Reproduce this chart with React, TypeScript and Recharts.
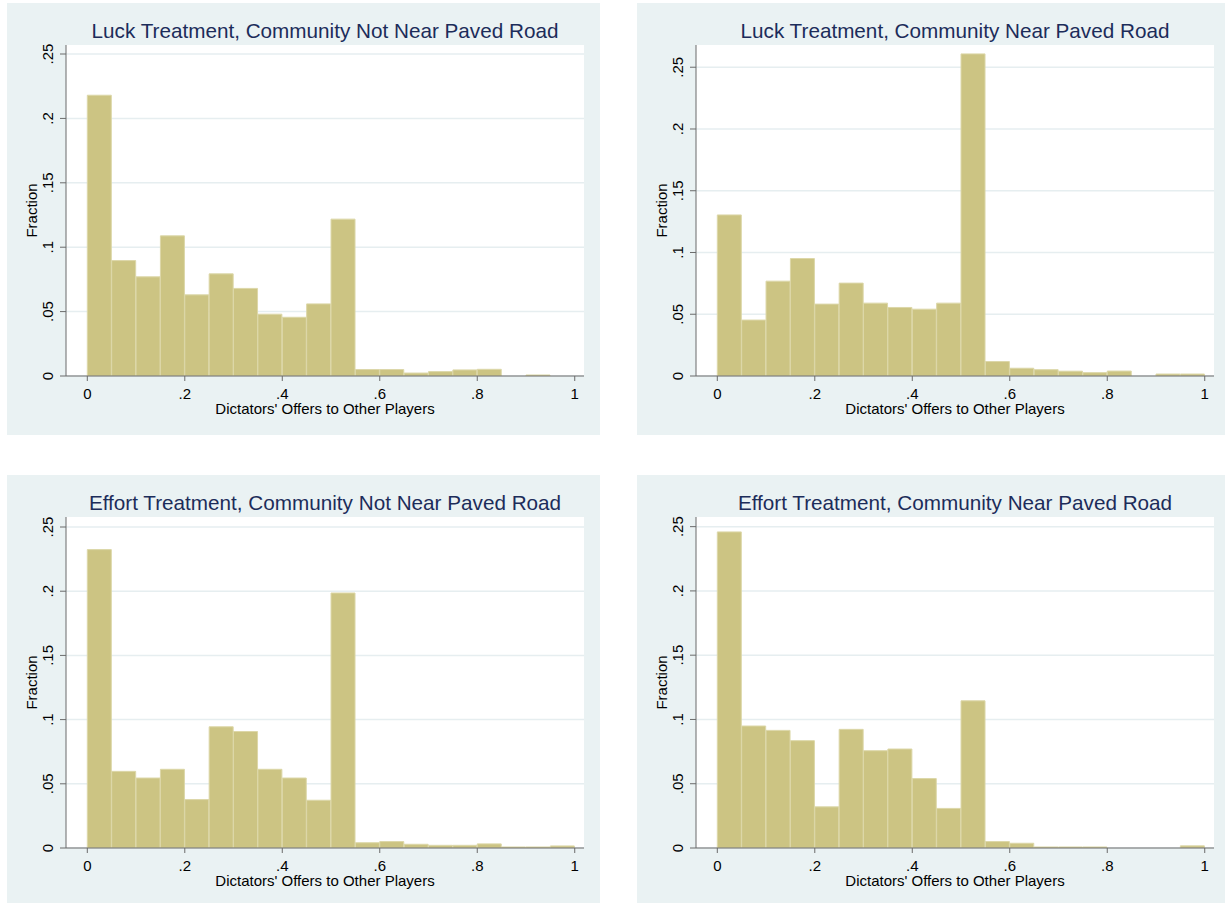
import React from 'react';
import { BarChart, Bar, XAxis, YAxis, CartesianGrid } from 'recharts';

// Histogram bins (midpoints of 0.05-wide bins from 0 to 1)
const binMids = [
  0.025, 0.075, 0.125, 0.175, 0.225, 0.275, 0.325, 0.375, 0.425, 0.475,
  0.525, 0.575, 0.625, 0.675, 0.725, 0.775, 0.825, 0.875, 0.925, 0.975,
];

// Fractions per bin
const luckNotNear = [
  0.218, 0.0896, 0.077, 0.1088, 0.063, 0.0793, 0.068, 0.048, 0.0456, 0.056,
  0.1218, 0.005, 0.005, 0.0023, 0.0034, 0.0047, 0.0052, 0, 0.0008, 0,
];
const luckNear = [
  0.1304, 0.0453, 0.0768, 0.0951, 0.0582, 0.0752, 0.059, 0.0555, 0.0541, 0.059,
  0.2608, 0.0117, 0.0063, 0.0051, 0.0039, 0.0027, 0.004, 0, 0.0016, 0.0016,
];
const effortNotNear = [
  0.2324, 0.0597, 0.0545, 0.0613, 0.0377, 0.0944, 0.0907, 0.0613, 0.0545, 0.0372,
  0.1986, 0.0041, 0.005, 0.0029, 0.0021, 0.0021, 0.0032, 0.0008, 0.0008, 0.0016,
];
const effortNear = [
  0.2459, 0.0949, 0.0915, 0.0835, 0.032, 0.0923, 0.0757, 0.077, 0.054, 0.0308,
  0.1145, 0.005, 0.0037, 0.0008, 0.0008, 0.0008, 0, 0, 0, 0.0017,
];

const titles = [
  'Luck Treatment, Community Not Near Paved Road',
  'Luck Treatment, Community Near Paved Road',
  'Effort Treatment, Community Not Near Paved Road',
  'Effort Treatment, Community Near Paved Road',
];
const xTicks = [0, 0.2, 0.4, 0.6, 0.8, 1];
const yTicks = [0, 0.05, 0.1, 0.15, 0.2, 0.25];
const xTitle = "Dictators' Offers to Other Players";
const yTitle = 'Fraction';

const series = [luckNotNear, luckNear, effortNotNear, effortNear];
const yTops = [0.257, 0.268, 0.2578, 0.2575];
const panelPos = [
  { left: 7, top: 3 },
  { left: 637, top: 3 },
  { left: 7, top: 475 },
  { left: 637, top: 475 },
];

const BG = '#eaf2f3';
const BAR = '#ccc483';
const BAR_EDGE = '#dcd7a8';
const AXIS = '#6b6b6b';
const FONT = '"Liberation Sans", Arial, Helvetica, sans-serif';
const AX_FS = 15;

const fmt = (v: number) => (v === 0 ? '0' : v === 1 ? '1' : String(v).replace(/^0/, ''));

const YTick = (props: any) => {
  const { x, y, payload } = props;
  return (
    <g transform={`translate(${x - 5},${y}) rotate(-90)`}>
      <text x={0} y={0} textAnchor="middle" fontSize={AX_FS} fill="#000" fontFamily={FONT}>
        {fmt(payload.value)}
      </text>
    </g>
  );
};

const W = 593;
const H = 432;

function Panel({ idx }: { idx: number }) {
  const data = binMids.map((m, i) => ({ x: m, v: series[idx][i] }));
  const pos = panelPos[idx];
  return (
    <div
      style={{
        position: 'absolute',
        left: pos.left,
        top: pos.top,
        width: W,
        height: H,
        background: BG,
      }}
    >
      <div
        style={{
          position: 'absolute',
          left: 59,
          width: 518,
          top: 17,
          textAlign: 'center',
          fontSize: 20.7,
          lineHeight: '21px',
          color: '#1c2c5a',
          fontFamily: FONT,
          whiteSpace: 'nowrap',
        }}
      >
        {titles[idx]}
      </div>
      <BarChart
        width={W}
        height={H}
        data={data}
        margin={{ top: 42, right: 16, bottom: 0, left: 0 }}
        barCategoryGap={0}
        barGap={0}
        style={{ fontFamily: FONT }}
      >
        <CartesianGrid
          horizontal
          vertical={false}
          fill="#ffffff"
          stroke="#e6eef0"
          strokeWidth={1.5}
          horizontalValues={yTicks}
        />
        <XAxis
          type="number"
          dataKey="x"
          domain={[-0.0437, 1.019]}
          allowDataOverflow
          ticks={xTicks}
          tickFormatter={fmt}
          height={59}
          tickSize={5}
          tickMargin={7}
          tick={{ fill: '#000', fontSize: AX_FS, fontFamily: FONT }}
          axisLine={{ stroke: AXIS }}
          tickLine={{ stroke: AXIS }}
          label={{
            value: xTitle,
            position: 'insideTop',
            offset: 27,
            fill: '#000',
            fontSize: AX_FS,
            fontFamily: FONT,
          }}
        />
        <YAxis
          type="number"
          domain={[0, yTops[idx]]}
          allowDataOverflow
          ticks={yTicks}
          width={59}
          tickSize={6}
          tick={<YTick />}
          axisLine={{ stroke: AXIS }}
          tickLine={{ stroke: AXIS }}
          label={{
            value: yTitle,
            angle: -90,
            position: 'insideLeft',
            offset: 25,
            fill: '#000',
            fontSize: AX_FS,
            fontFamily: FONT,
            style: { textAnchor: 'middle' },
          }}
        />
        <Bar
          dataKey="v"
          fill={BAR}
          stroke={BAR_EDGE}
          strokeWidth={1}
          isAnimationActive={false}
        />
      </BarChart>
    </div>
  );
}

export default function App() {
  return (
    <div
      style={{
        position: 'absolute',
        left: 0,
        top: 0,
        width: 1225,
        height: 903,
        overflow: 'hidden',
        background: '#ffffff',
        fontFamily: FONT,
      }}
    >
      {[0, 1, 2, 3].map((i) => (
        <Panel key={i} idx={i} />
      ))}
    </div>
  );
}
